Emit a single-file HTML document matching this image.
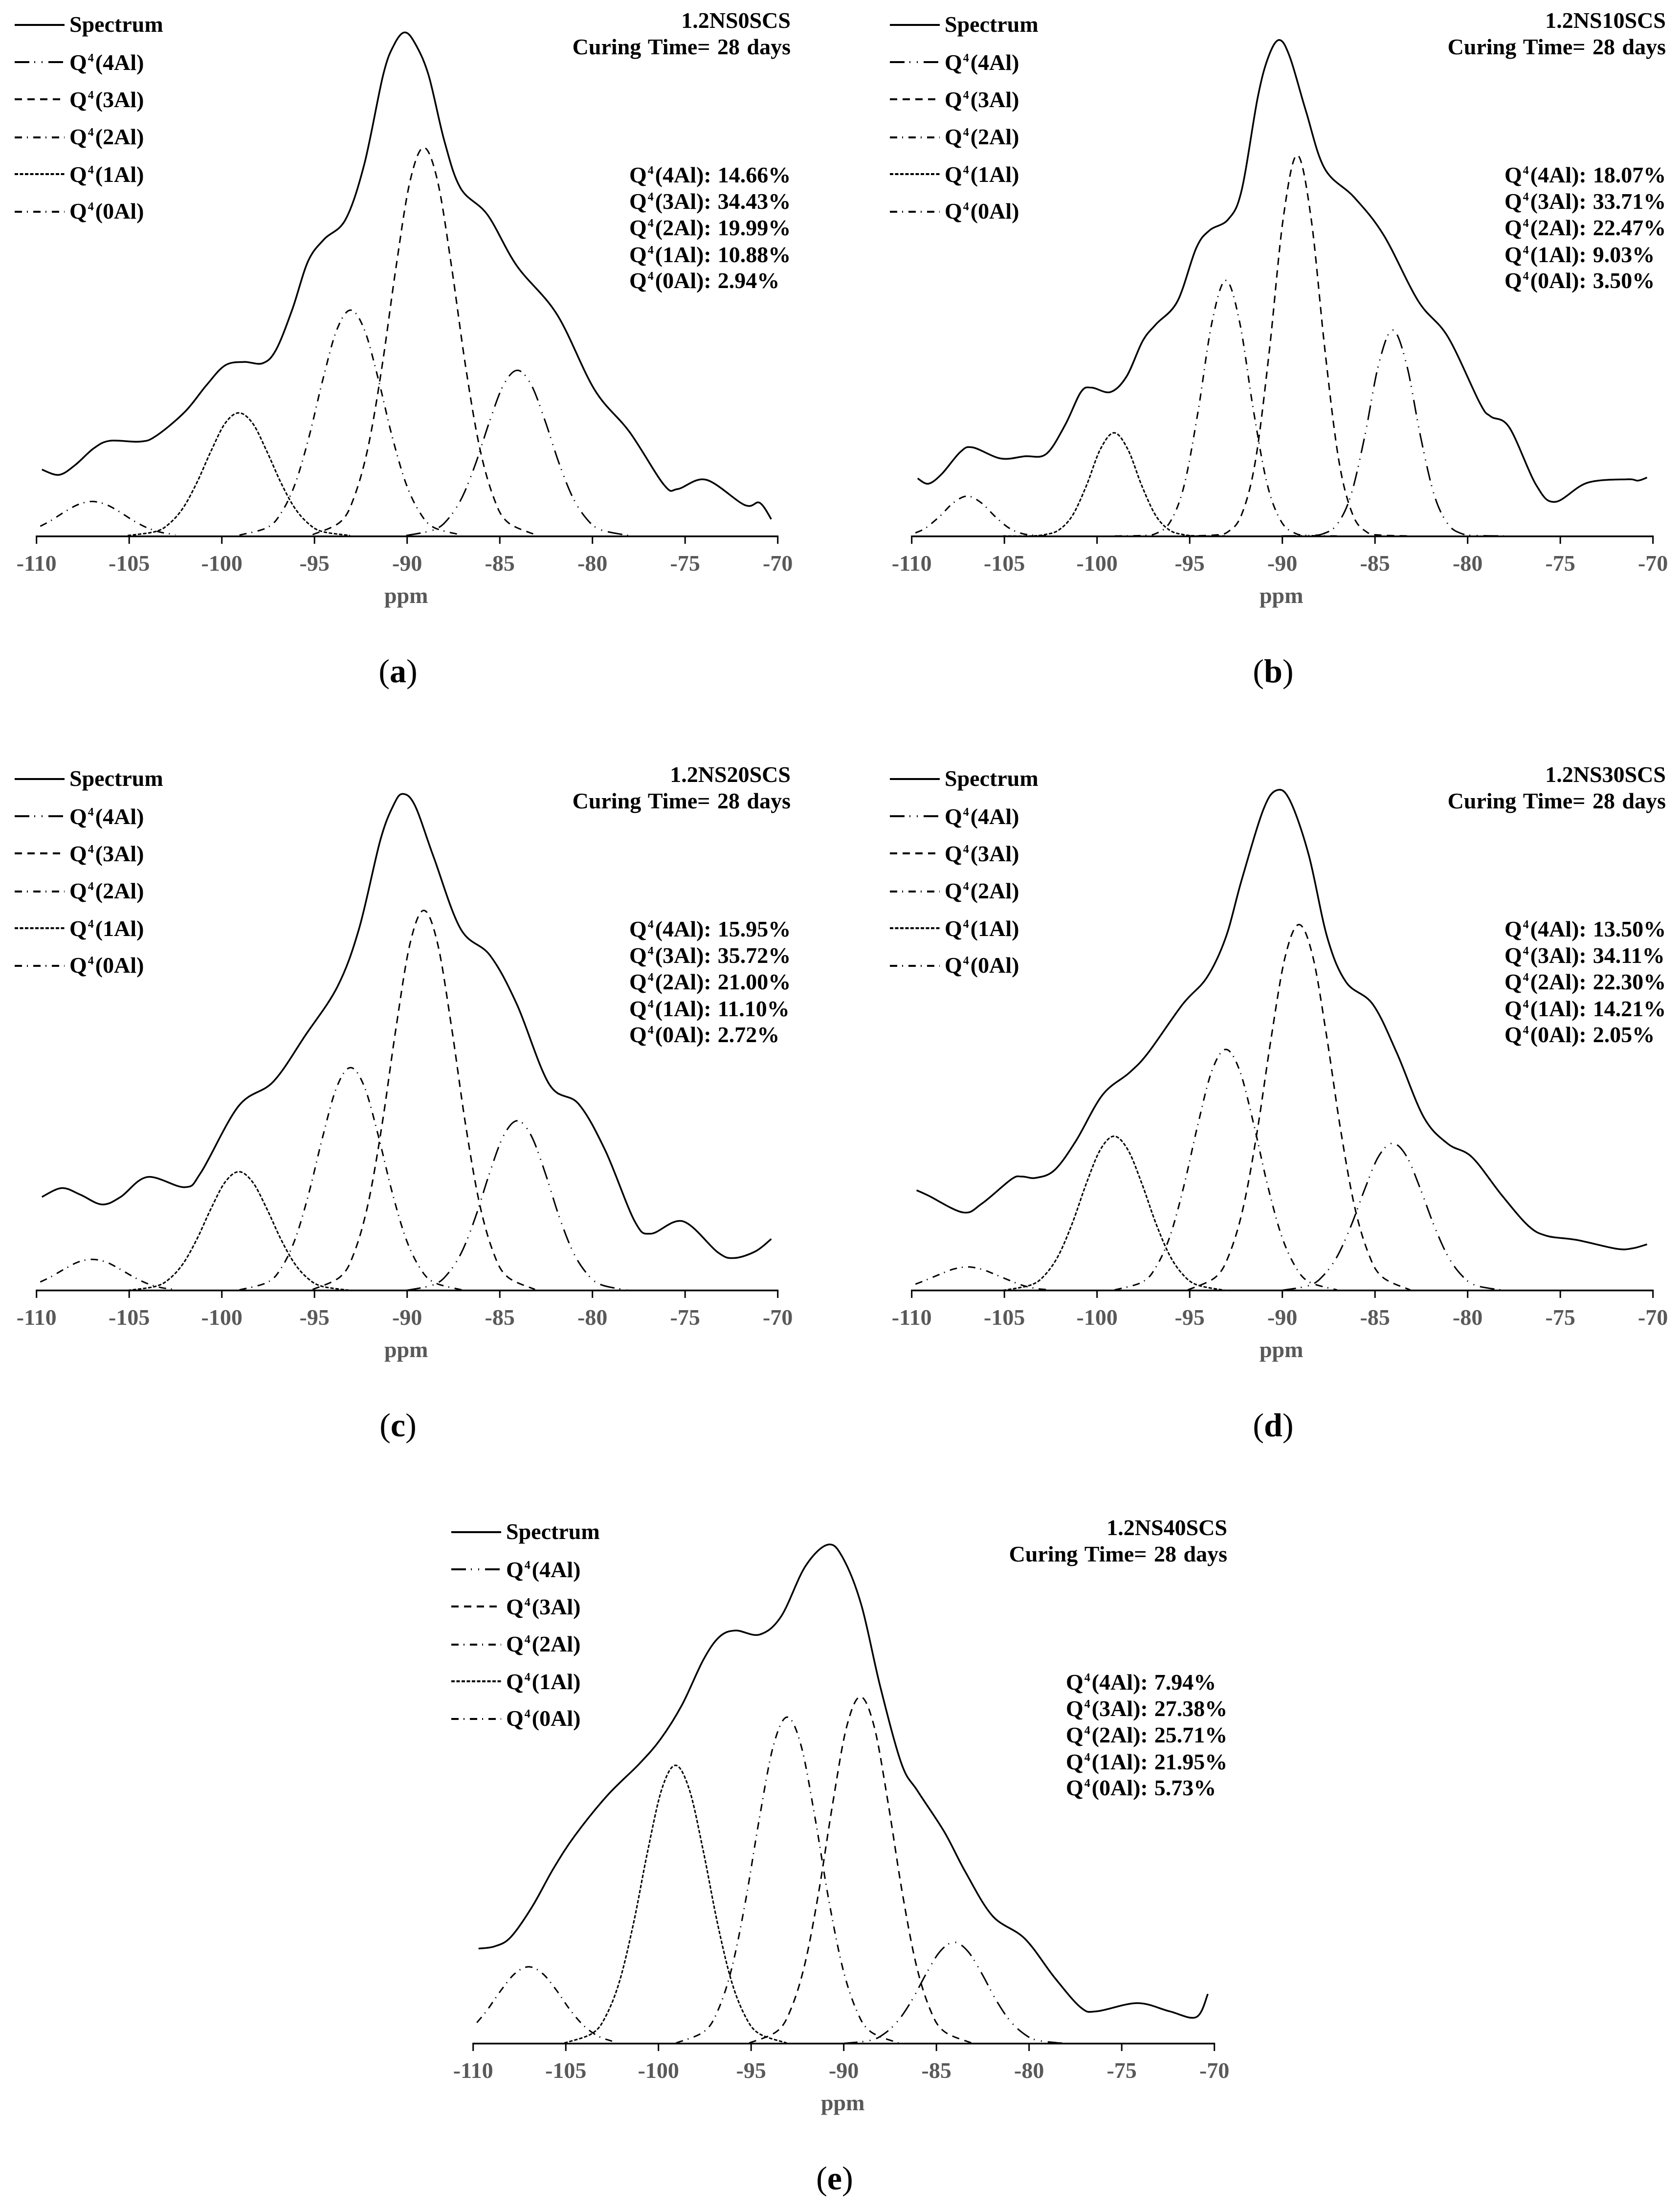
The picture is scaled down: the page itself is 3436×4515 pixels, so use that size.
<!DOCTYPE html>
<html lang="en">
<head>
<meta charset="utf-8">
<title>Q4 NMR deconvolution spectra, 1.2NS SCS series, 28 days</title>
<style>
html,body{margin:0;padding:0;background:#fff;}
svg{display:block;font-family:"Liberation Serif",serif;font-weight:bold;}
</style>
</head>
<body>
<svg id="figure" xmlns="http://www.w3.org/2000/svg" width="3436" height="4515" viewBox="0 0 3436 4515">
<rect width="3436" height="4515" fill="#ffffff"/>
</svg>
<script>
// x-axis
const tickValues = [-110, -105, -100, -95, -90, -85, -80, -75, -70];
const legendNames = ['4Al', '3Al', '2Al', '1Al', '0Al'];

// component sample positions (ppm)
const ppmQ0 = [-109.8, -109.25, -108.5, -107.75, -107, -106.25, -105.5, -104.75, -104, -103.25, -102.5];
const ppmQ1 = [-105.08, -103.58, -102.83, -102.08, -101.33, -100.58, -99.83, -99.08, -98.33, -97.58, -96.83, -96.08, -95.33, -94.58, -93.08];
const ppmQ2 = [-99.05, -97.55, -96.8, -96.05, -95.3, -94.55, -93.8, -93.05, -92.3, -91.55, -90.8, -90.05, -89.3, -88.55, -87.05];
const ppmQ3 = [-95.1, -93.6, -92.85, -92.1, -91.35, -90.6, -89.85, -89.1, -88.35, -87.6, -86.85, -86.1, -85.35, -84.6, -83.1];
const ppmQ3b = [-95.2, -93.7, -92.95, -92.2, -91.45, -90.7, -89.95, -89.2, -88.45, -87.7, -86.95, -86.2, -85.45, -84.7, -83.2];
const ppmQ4 = [-90.05, -88.55, -87.8, -87.05, -86.3, -85.55, -84.8, -84.05, -83.3, -82.55, -81.8, -81.05, -80.3, -79.55, -78.05];

// panel (a)
const specPpmA = [-109.71,-108.79,-107.92,-106.91,-106.04,-104.45,-103.58,-102,-100.84,-99.83,-98.81,-97.8,-97.08,-96.21,-95.35,-94.48,-93.32,-92.31,-91.3,-90.72,-90.14,-89.57,-88.84,-87.98,-87.11,-85.66,-84.08,-81.91,-79.88,-78,-76.13,-75.4,-73.87,-71.79,-70.98,-70.35];
const specA = [150,138,160,198,215,213,225,280,340,385,393,390,420,510,620,670,715,840,1040,1108,1137,1112,1040,890,785,725,610,500,330,235,115,106,127,70,75,38];
const q0A = [22,34,54,71,78,71,54,34,18,8,3];
const q1A = [1,10,28,64,122,192,254,278,254,192,122,64,28,10,1];
const q2A = [2,19,52,117,223,353,465,510,465,353,223,117,52,19,2];
const q3A = [3,32,89,202,384,607,800,877,800,607,384,202,89,32,3];
const q4A = [1,14,38,86,164,259,341,374,341,259,164,86,38,14,1];
const percentsA = ['14.66%','34.43%','19.99%','10.88%','2.94%'];

// panel (b)
const specPpmB = [-109.68,-109.1,-108.38,-107.37,-106.71,-105.2,-103.9,-102.75,-101.73,-100.87,-100.29,-99.28,-98.41,-97.54,-96.82,-95.66,-94.65,-93.93,-92.92,-92.2,-91.33,-90.75,-90.17,-89.6,-88.73,-87.72,-86.13,-84.54,-82.66,-81.07,-79.34,-78.76,-77.75,-76.3,-75.29,-73.55,-71.39,-70.81,-70.32];
const specB = [130,118,140,190,200,175,180,185,250,325,335,325,360,440,478,530,650,690,715,780,990,1082,1120,1082,960,830,765,680,530,450,300,270,245,115,77,120,128,125,132];
const q0B = [7,18,44,75,90,75,44,18,5,1,0];
const q1B = [0,0,3,13,46,113,195,233,195,113,46,13,3,0,0];
const q2B = [0,1,6,32,114,281,482,577,482,281,114,32,6,1,0];
const q3B = [0,2,9,48,170,419,718,860,718,419,170,48,9,2,0];
const q4B = [0,1,5,26,92,226,388,465,388,226,92,26,5,1,0];
const percentsB = ['18.07%','33.71%','22.47%','9.03%','3.50%'];

// panel (c)
const specPpmC = [-109.71,-108.64,-107.63,-106.47,-105.46,-104.02,-102,-101.13,-99.1,-97.23,-95.49,-93.76,-92.6,-91.45,-90.72,-90.23,-89.57,-88.55,-87.11,-85.52,-84.08,-82.34,-80.75,-79.31,-77.72,-76.85,-75.12,-73.24,-72.37,-71.21,-70.35];
const specC = [212,232,217,195,212,257,234,267,417,472,577,687,817,1017,1098,1122,1095,977,817,757,647,467,422,317,157,129,157,87,74,89,117];
const q0C = [20,31,49,65,71,65,49,31,16,7,3];
const q1C = [1,10,27,62,118,186,245,269,245,186,118,62,27,10,1];
const q2C = [2,19,51,116,221,349,460,504,460,349,221,116,51,19,2];
const q3C = [3,32,87,198,376,594,783,859,783,594,376,198,87,32,3];
const q4C = [1,14,39,88,168,266,350,384,350,266,168,88,39,14,1];
const percentsC = ['15.95%','35.72%','21.00%','11.10%','2.72%'];

// panel (d)
const specPpmD = [-109.74,-109.1,-107.23,-106.21,-104.62,-104.05,-103.32,-102.31,-101.16,-99.71,-98.27,-97.25,-95.38,-94.08,-93.06,-92.2,-91.04,-90.32,-89.6,-88.58,-87.57,-86.56,-85.12,-83.82,-82.37,-81.07,-79.77,-78.18,-76.73,-75.72,-74.13,-71.97,-71.1,-70.32];
const specD = [227,215,177,197,252,258,255,272,337,442,492,537,647,707,797,927,1085,1130,1108,985,797,697,647,537,392,332,302,217,147,124,115,95,96,105];
const q0D = [15,24,37,49,54,49,37,24,12,5,2];
const q1D = [1,13,35,80,153,242,318,349,318,242,153,80,35,13,1];
const q2D = [2,20,55,125,239,377,497,545,497,377,239,125,55,20,2];
const q3D = [2,31,84,190,362,572,754,827,754,572,362,190,84,31,2];
const q4D = [1,12,34,77,146,230,304,333,304,230,146,77,34,12,1];
const percentsD = ['13.50%','34.11%','22.30%','14.21%','2.05%'];

// panel (e)
const specPpmE = [-109.71,-108.84,-107.98,-106.82,-105.66,-104.51,-102.77,-101.04,-99.88,-98.73,-97.57,-96.71,-95.84,-94.54,-93.38,-92.08,-90.87,-90.06,-89.05,-88.03,-86.88,-86.01,-84.57,-83.41,-81.97,-80.23,-78.64,-77.2,-76.33,-74.16,-72.43,-70.98,-70.35];
const specE = [210,215,235,302,387,459,547,617,672,747,847,897,911,902,942,1052,1100,1072,967,787,617,557,467,377,282,232,147,80,72,90,72,59,110];
const q0E = [47,74,118,155,170,155,118,74,39,17,6];
const q1E = [2,23,62,141,269,425,560,614,560,425,269,141,62,23,2];
const q2E = [2,27,73,166,315,498,657,720,657,498,315,166,73,27,2];
const q3E = [2,28,77,176,335,529,698,765,698,529,335,176,77,28,2];
const q4E = [1,8,23,52,98,155,204,224,204,155,98,52,23,8,1];
const percentsE = ['7.94%','27.38%','25.71%','21.95%','5.73%'];

const NS = 'http://www.w3.org/2000/svg';
const svg = document.getElementById('figure');

function make(tag, parent, attrs) {
  const el = document.createElementNS(NS, tag);
  for (const k in attrs) el.setAttribute(k, attrs[k]);
  parent.appendChild(el);
  return el;
}
function xScale(ppm) { return 74.7 + (ppm + 110) * (1516 / 40); }
function yScale(v, cfg) { return cfg.zero - v * cfg.k; }

function curvePath(xs, ys, cfg) {
  const pts = xs.map((p, i) => [xScale(p), yScale(ys[i], cfg)]);
  let d = 'M' + pts[0][0].toFixed(1) + ' ' + pts[0][1].toFixed(1);
  for (let i = 0; i < pts.length - 1; i++) {
    const p0 = pts[Math.max(0, i - 1)], p1 = pts[i], p2 = pts[i + 1], p3 = pts[Math.min(pts.length - 1, i + 2)];
    const c1x = p1[0] + (p2[0] - p0[0]) / 6, c1y = p1[1] + (p2[1] - p0[1]) / 6;
    const c2x = p2[0] - (p3[0] - p1[0]) / 6, c2y = p2[1] - (p3[1] - p1[1]) / 6;
    d += 'C' + c1x.toFixed(1) + ' ' + c1y.toFixed(1) + ' ' + c2x.toFixed(1) + ' ' + c2y.toFixed(1) + ' ' + p2[0].toFixed(1) + ' ' + p2[1].toFixed(1);
  }
  return d;
}
function addCurve(parent, xs, ys, cfg, dash, width) {
  const attrs = { d: curvePath(xs, ys, cfg), fill: 'none', stroke: '#000', 'stroke-width': width, 'stroke-linejoin': 'round' };
  if (dash) attrs['stroke-dasharray'] = dash;
  return make('path', parent, attrs);
}
function qLabel(parent, x, y, name, tail) {
  const t = make('text', parent, { x: x, y: y, 'font-size': 46, fill: '#000' });
  const a = make('tspan', t, {});
  a.textContent = 'Q';
  const b = make('tspan', t, { 'font-size': 24, dy: -17, dx: 2 });
  b.textContent = '4';
  const c = make('tspan', t, { dy: 17, dx: 3 });
  c.textContent = '(' + name + ')' + (tail ? ':' : '');
  if (tail) {
    const d = make('tspan', t, { dx: 13 });
    d.textContent = tail;
  }
  return t;
}

const DASH_Q4 = '30 10 2 13 2 12';
const DASH_Q3 = '15 11';
const DASH_Q2 = '15 10 2 11';
const DASH_Q1 = '7 3.5';
const DASH_Q0 = '15 10 2 11';
const legendDashes = [DASH_Q4, DASH_Q3, DASH_Q2, DASH_Q1, DASH_Q0];
const legendRowY = [127, 203, 281, 356, 433];
const legendTextY = [143, 219, 295, 372, 447];
const statRowY = [373, 427, 481, 536, 589];

function drawPanel(cfg) {
  const g = make('g', svg, { transform: 'translate(' + cfg.tx + ' ' + cfg.ty + ')' });
  
  

  const spec = addCurve(g, cfg.specPpm, cfg.spec, cfg, null, 3.5);
  
  

  const c0 = addCurve(g, ppmQ0, cfg.q0, cfg, DASH_Q0, 3);
  
  

  const c1 = addCurve(g, ppmQ1, cfg.q1, cfg, DASH_Q1, 3);
  
  

  const c2 = addCurve(g, ppmQ2, cfg.q2, cfg, DASH_Q2, 3);
  
  

  const c3 = addCurve(g, cfg.ppm3 || ppmQ3, cfg.q3, cfg, DASH_Q3, 3);
  
  

  const c4 = addCurve(g, ppmQ4, cfg.q4, cfg, DASH_Q4, 3);
  
  

  const axis = make('line', g, { x1: xScale(-110) - 1.5, x2: xScale(-70) + 1.5, y1: 1096.7, y2: 1096.7, stroke: '#000', 'stroke-width': 3.5 });
  
  

  tickValues.forEach(function (v) {
    const tick = make('line', g, { x1: xScale(v), x2: xScale(v), y1: 1096.7, y2: 1112, stroke: '#000', 'stroke-width': 3 });
    
    
    const lab = make('text', g, { x: xScale(v), y: 1167, 'font-size': 46, fill: '#595959', 'text-anchor': 'middle' });
    
    
    lab.textContent = String(v);
  });

  const xTitle = make('text', g, { x: xScale(-90) - 2, y: 1233, 'font-size': 46, fill: '#595959', 'text-anchor': 'middle' });
  
  
  xTitle.textContent = 'ppm';

  const spKey = make('line', g, { x1: 30, x2: 132, y1: 51, y2: 51, stroke: '#000', 'stroke-width': 4 });
  
  
  const spText = make('text', g, { x: 142, y: 65, 'font-size': 46, fill: '#000' });
  
  
  spText.textContent = 'Spectrum';

  legendNames.forEach(function (name, i) {
    const key = make('line', g, { x1: 30, x2: 132, y1: legendRowY[i], y2: legendRowY[i], stroke: '#000', 'stroke-width': 4, 'stroke-dasharray': legendDashes[i] });
    
    
    const lab = qLabel(g, 142, legendTextY[i], name, '');
    
    
    const stat = qLabel(g, 1287, statRowY[i], name, cfg.percents[i]);
    
    
  });

  const title = make('text', g, { x: 1617, y: 57, 'font-size': 46, fill: '#000', 'text-anchor': 'end' });
  
  
  title.textContent = cfg.title;

  const curing = make('text', g, { x: 1617, y: 111, 'font-size': 46, fill: '#000', 'text-anchor': 'end', 'word-spacing': 3 });
  
  
  curing.textContent = 'Curing Time= 28 days';

  const letter = make('text', g, { x: 814, y: 1395, 'font-size': 68, fill: '#000', 'text-anchor': 'middle', 'font-weight': 'normal' });
  
  
  make('tspan', letter, {}).textContent = '(';
  make('tspan', letter, { 'font-weight': 'bold' }).textContent = cfg.letter;
  make('tspan', letter, {}).textContent = ')';
}

drawPanel({ tx: 0, ty: 0, k: 0.9056, zero: 1096, title: '1.2NS0SCS', letter: 'a', specPpm: specPpmA, spec: specA, q0: q0A, q1: q1A, q2: q2A, q3: q3A, q4: q4A, percents: percentsA });
drawPanel({ tx: 1790, ty: 0, k: 0.9056, zero: 1096, title: '1.2NS10SCS', letter: 'b', specPpm: specPpmB, spec: specB, q0: q0B, q1: q1B, q2: q2B, q3: q3B, q4: q4B, ppm3: ppmQ3b, percents: percentsB });
drawPanel({ tx: 0, ty: 1542, k: 0.9056, zero: 1097.5, title: '1.2NS20SCS', letter: 'c', specPpm: specPpmC, spec: specC, q0: q0C, q1: q1C, q2: q2C, q3: q3C, q4: q4C, percents: percentsC });
drawPanel({ tx: 1790, ty: 1542, k: 0.9056, zero: 1097.5, title: '1.2NS30SCS', letter: 'd', specPpm: specPpmD, spec: specD, q0: q0D, q1: q1D, q2: q2D, q3: q3D, q4: q4D, percents: percentsD });
drawPanel({ tx: 893, ty: 3082, k: 0.928, zero: 1097.5, title: '1.2NS40SCS', letter: 'e', specPpm: specPpmE, spec: specE, q0: q0E, q1: q1E, q2: q2E, q3: q3E, q4: q4E, percents: percentsE });
</script>
</body>
</html>
